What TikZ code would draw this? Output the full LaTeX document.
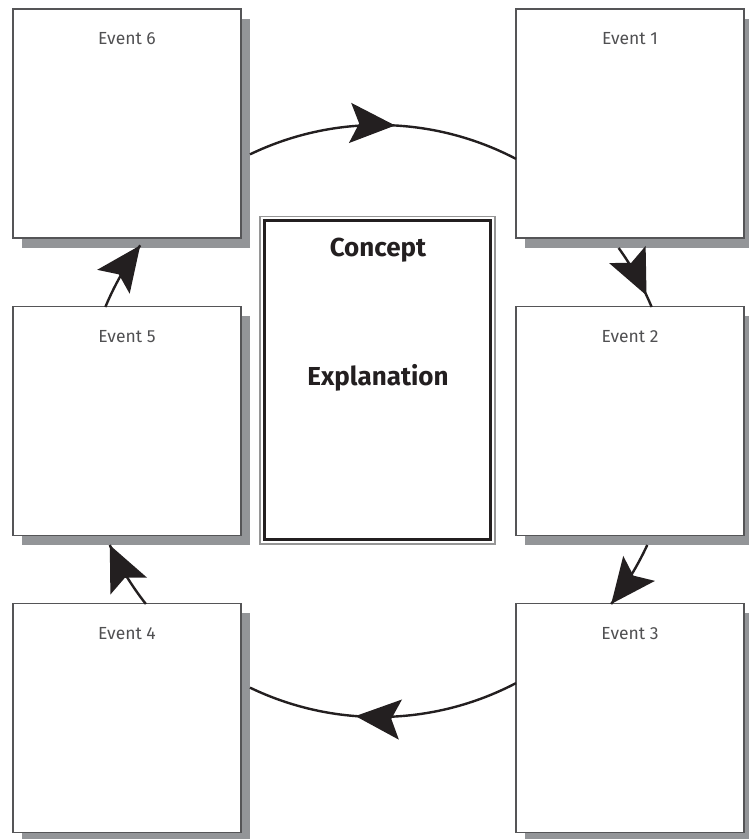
\documentclass[tikz,border=0pt]{standalone}
\usepackage{fontspec}
\newfontfamily\evfont{Fira Sans}
\newfontfamily\cfont{Fira Sans}
\usetikzlibrary{arrows.meta,decorations.markings,calc,shadows}
\definecolor{shadowgray}{RGB}{147,149,152}
\definecolor{boxline}{RGB}{85,85,87}
\definecolor{ink}{RGB}{35,31,32}
\definecolor{evtext}{RGB}{80,80,82}
\definecolor{outergray}{RGB}{150,150,150}
\begin{document}
\begin{tikzpicture}[x=1pt,y=1pt,
  evbox/.style={draw=boxline, line width=1.2pt, fill=white,
    minimum width=228pt, minimum height=229pt, inner sep=0pt, outer sep=0pt,
    drop shadow={shadow xshift=9pt, shadow yshift=-10pt, fill=shadowgray, opacity=1, draw=none}},
  evlabel/.style={font=\evfont\fontsize{17.5}{20}\selectfont, text=evtext,
    anchor=center, yshift=-30pt, inner sep=0pt},
  cbox/.style={draw=ink, line width=3pt, fill=white,
    minimum width=226.5pt, minimum height=318.5pt, inner sep=0pt, outer sep=0pt},
  outerbox/.style={draw=outergray, line width=1.4pt},
  ctext/.style={font=\cfont\bfseries\fontsize{26}{30}\selectfont, text=ink, inner sep=0pt},
  conn/.style={draw=ink, line width=2.4pt},
  tipat/.style={postaction={decorate}, decoration={markings,
    mark=at position #1 with {\arrow[ink]{Stealth[length=45pt,width=40pt,inset=9pt]}}}}
]
\useasboundingbox (0,0) rectangle (748,839);

% event boxes
\node[evbox, label={[evlabel]north:Event 6}] (e6) at (127,715.5) {};
\node[evbox, label={[evlabel]north:Event 1}] (e1) at (630,715.5) {};
\node[evbox, label={[evlabel]north:Event 5}] (e5) at (127,418) {};
\node[evbox, label={[evlabel]north:Event 2}] (e2) at (630,418) {};
\node[evbox, label={[evlabel]north:Event 4}] (e4) at (127,121) {};
\node[evbox, label={[evlabel]north:Event 3}] (e3) at (630,121) {};

% central box
\node[cbox] (cb) at (377.5,458.75) {};
\draw[outerbox] ([shift={(-4.4,-4.4)}]cb.south west) rectangle ([shift={(4.4,4.4)}]cb.north east);
\node[ctext] (concept) at (378,589) {Concept};
\node[ctext] (expl) at (378,461) {Explanation};

% cycle connectors (arcs of one circle)
\coordinate (c) at (378.5,418);
\draw[conn, tipat=0.542] ($(c)+(115.73:296pt)$) arc[start angle=115.73, end angle=62.32, radius=296pt];
\draw[conn, tipat=0.813] ($(c)+(35.77:296pt)$) arc[start angle=35.77, end angle=22.65, radius=296pt];
\draw[conn, tipat=0.999] ($(c)+(-24.77:296pt)$) arc[start angle=-24.77, end angle=-38.19, radius=296pt];
\draw[conn, tipat=0.602] ($(c)+(-62.32:296pt)$) arc[start angle=-62.32, end angle=-115.73, radius=296pt];
\draw[conn, tipat=0.999] ($(c)+(218.19:296pt)$) arc[start angle=218.19, end angle=204.77, radius=296pt];
\draw[conn, tipat=0.999] ($(c)+(157.35:296pt)$) arc[start angle=157.35, end angle=143.6, radius=296pt];
\end{tikzpicture}
\end{document}
